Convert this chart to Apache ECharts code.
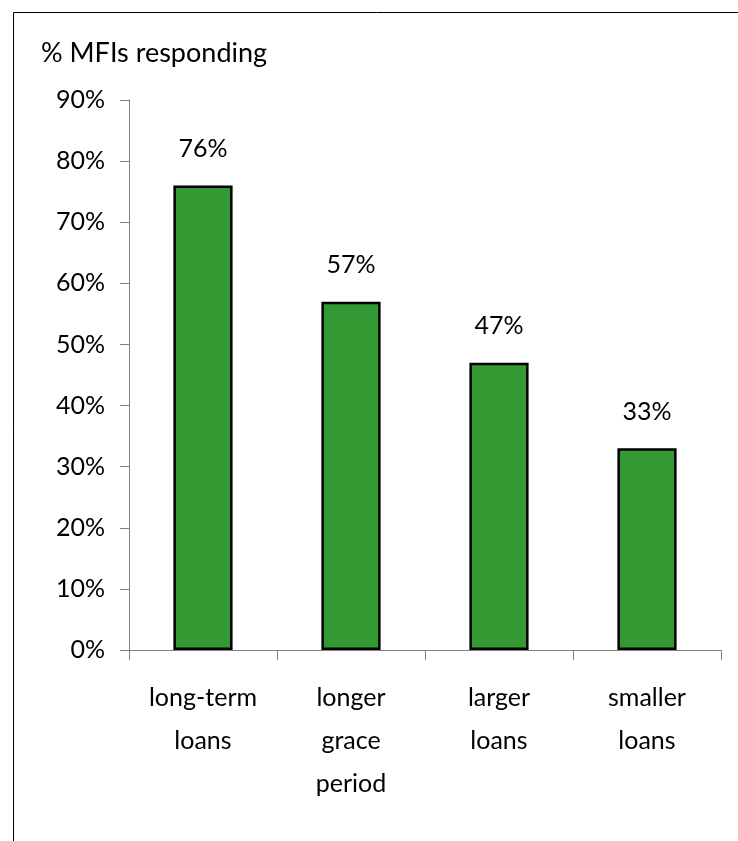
<!DOCTYPE html>
<html>
<head>
<meta charset="utf-8">
<script src="https://cdn.jsdelivr.net/npm/echarts@6/dist/echarts.min.js"></script>
<style>
  html, body { margin: 0; padding: 0; background: #fff; }
  #chart { width: 738px; height: 841px; }
</style>
</head>
<body>
<div id="chart"></div>
<script>
// Survey results: share of MFIs asking for each loan product change
const categories = ['long-term\nloans', 'longer\ngrace\nperiod', 'larger\nloans', 'smaller\nloans'];
const shareResponding = [76, 57, 47, 33];
const yTicks = { min: 0, max: 90, interval: 10 };

const FONT = 'Lato, "Open Sans", sans-serif';
const chart = echarts.init(document.getElementById('chart'));

chart.setOption({
  backgroundColor: '#ffffff',
  animation: false,
  graphic: [
    // outer frame (top and left edges visible)
    {
      type: 'rect',
      shape: { x: 13.5, y: 12.5, width: 900, height: 1000 },
      style: { fill: 'none', stroke: '#000', lineWidth: 1 },
      silent: true
    },
    {
      type: 'text',
      left: 41,
      top: 40,
      style: { text: '% MFIs responding', font: '27px ' + FONT, fill: '#000' }
    }
  ],
  grid: { left: 129, right: 17, top: 100, bottom: 191, containLabel: false },
  xAxis: {
    type: 'category',
    data: categories,
    axisLine: { lineStyle: { color: '#808080', width: 1 } },
    axisTick: { show: true, length: 10, alignWithLabel: false, lineStyle: { color: '#808080' } },
    axisLabel: {
      color: '#000',
      fontFamily: FONT,
      fontSize: 25,
      lineHeight: 43,
      margin: 26,
      interval: 0
    },
    splitLine: { show: false }
  },
  yAxis: {
    type: 'value',
    min: yTicks.min,
    max: yTicks.max,
    interval: yTicks.interval,
    axisLine: { show: true, lineStyle: { color: '#808080', width: 1 } },
    axisTick: { show: true, length: 9, inside: false, lineStyle: { color: '#808080' } },
    axisLabel: {
      color: '#000',
      fontFamily: FONT,
      fontSize: 25,
      margin: 24,
      formatter: v => v + '%'
    },
    splitLine: { show: false }
  },
  series: [{
    type: 'bar',
    data: shareResponding,
    barWidth: '40%',
    itemStyle: { color: '#339933', borderColor: '#000', borderWidth: 2.5 },
    label: {
      show: true,
      position: 'top',
      distance: 24,
      color: '#000',
      fontFamily: FONT,
      fontSize: 25,
      formatter: p => p.value + '%'
    }
  }]
});
</script>
</body>
</html>
